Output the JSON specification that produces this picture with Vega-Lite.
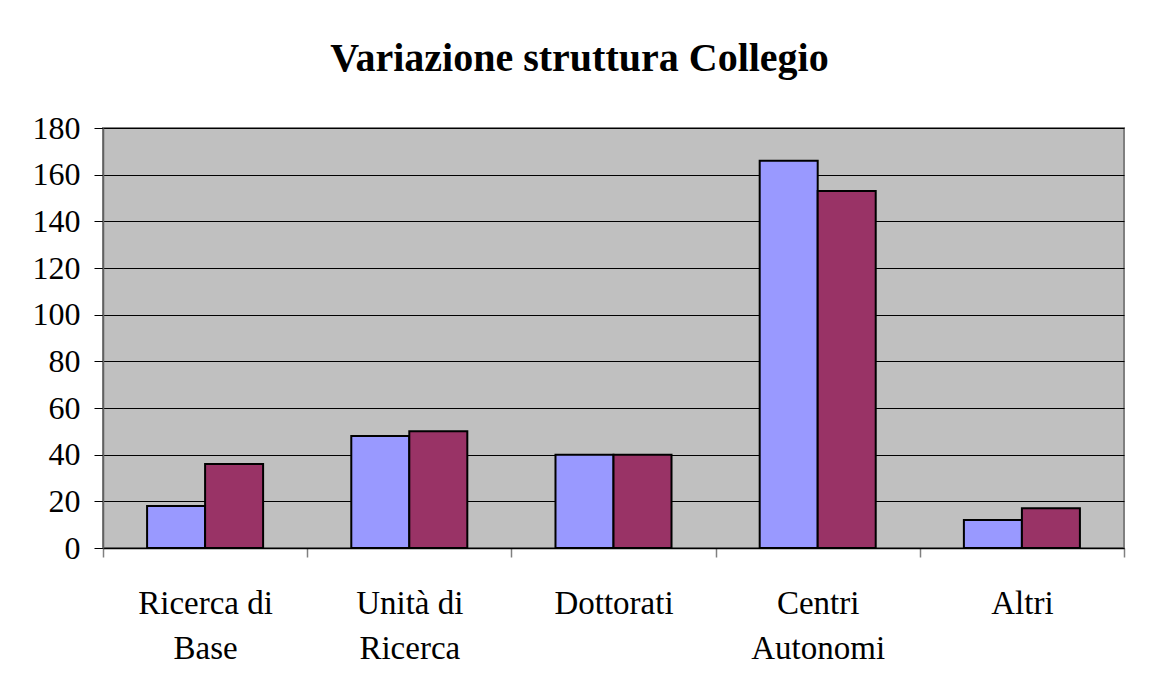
{
  "$schema": "https://vega.github.io/schema/vega-lite/v6.json",
  "autosize": {"type": "none"},
  "padding": {"left": 103, "top": 128, "right": 34, "bottom": 125},
  "width": 1021,
  "height": 420,
  "background": "white",
  "title": {
    "text": "Variazione struttura Collegio",
    "font": "Liberation Serif",
    "fontSize": 40,
    "fontWeight": "bold",
    "color": "black",
    "anchor": "middle",
    "frame": "group",
    "dx": -34,
    "offset": 33
  },
  "data": {
    "values": [
      {"categoria": "Ricerca di Base", "serie": "Serie1", "valore": 18},
      {"categoria": "Ricerca di Base", "serie": "Serie2", "valore": 36},
      {"categoria": "Unità di Ricerca", "serie": "Serie1", "valore": 48},
      {"categoria": "Unità di Ricerca", "serie": "Serie2", "valore": 50},
      {"categoria": "Dottorati", "serie": "Serie1", "valore": 40},
      {"categoria": "Dottorati", "serie": "Serie2", "valore": 40},
      {"categoria": "Centri Autonomi", "serie": "Serie1", "valore": 166},
      {"categoria": "Centri Autonomi", "serie": "Serie2", "valore": 153},
      {"categoria": "Altri", "serie": "Serie1", "valore": 12},
      {"categoria": "Altri", "serie": "Serie2", "valore": 17}
    ]
  },
  "mark": {"type": "bar", "stroke": "black", "strokeWidth": 2},
  "encoding": {
    "x": {
      "field": "categoria",
      "type": "nominal",
      "sort": ["Ricerca di Base", "Unità di Ricerca", "Dottorati", "Centri Autonomi", "Altri"],
      "scale": {"paddingInner": 0, "paddingOuter": 0},
      "axis": {
        "title": null,
        "labelAngle": 0,
        "tickBand": "extent",
        "tickSize": 9,
        "tickColor": "#808080",
        "tickWidth": 1.5,
        "domainColor": "black",
        "domainWidth": 1.5,
        "labelFont": "Liberation Serif",
        "labelFontSize": 33,
        "labelColor": "black",
        "labelPadding": 46,
        "labelBaseline": "middle",
        "labelLineHeight": 45,
        "labelExpr": "datum.value == 'Ricerca di Base' ? ['Ricerca di', 'Base'] : datum.value == 'Unità di Ricerca' ? ['Unità di', 'Ricerca'] : datum.value == 'Centri Autonomi' ? ['Centri', 'Autonomi'] : datum.value"
      }
    },
    "xOffset": {
      "field": "serie",
      "type": "nominal",
      "scale": {"paddingInner": 0, "paddingOuter": 0.76}
    },
    "y": {
      "field": "valore",
      "type": "quantitative",
      "scale": {"domain": [0, 180], "nice": false},
      "axis": {
        "title": null,
        "values": [0, 20, 40, 60, 80, 100, 120, 140, 160, 180],
        "grid": true,
        "gridColor": "black",
        "gridWidth": 1,
        "gridOpacity": 1,
        "tickSize": 9,
        "tickColor": "black",
        "tickWidth": 1,
        "domainColor": "#606060",
        "domainWidth": 1.5,
        "labelFont": "Liberation Serif",
        "labelFontSize": 32,
        "labelColor": "black",
        "labelPadding": 14
      }
    },
    "color": {
      "field": "serie",
      "type": "nominal",
      "scale": {"domain": ["Serie1", "Serie2"], "range": ["#9999FF", "#993366"]},
      "legend": null
    }
  },
  "config": {
    "view": {"fill": "#C0C0C0", "stroke": "#808080", "strokeWidth": 2},
    "bar": {"opacity": 1}
  }
}
